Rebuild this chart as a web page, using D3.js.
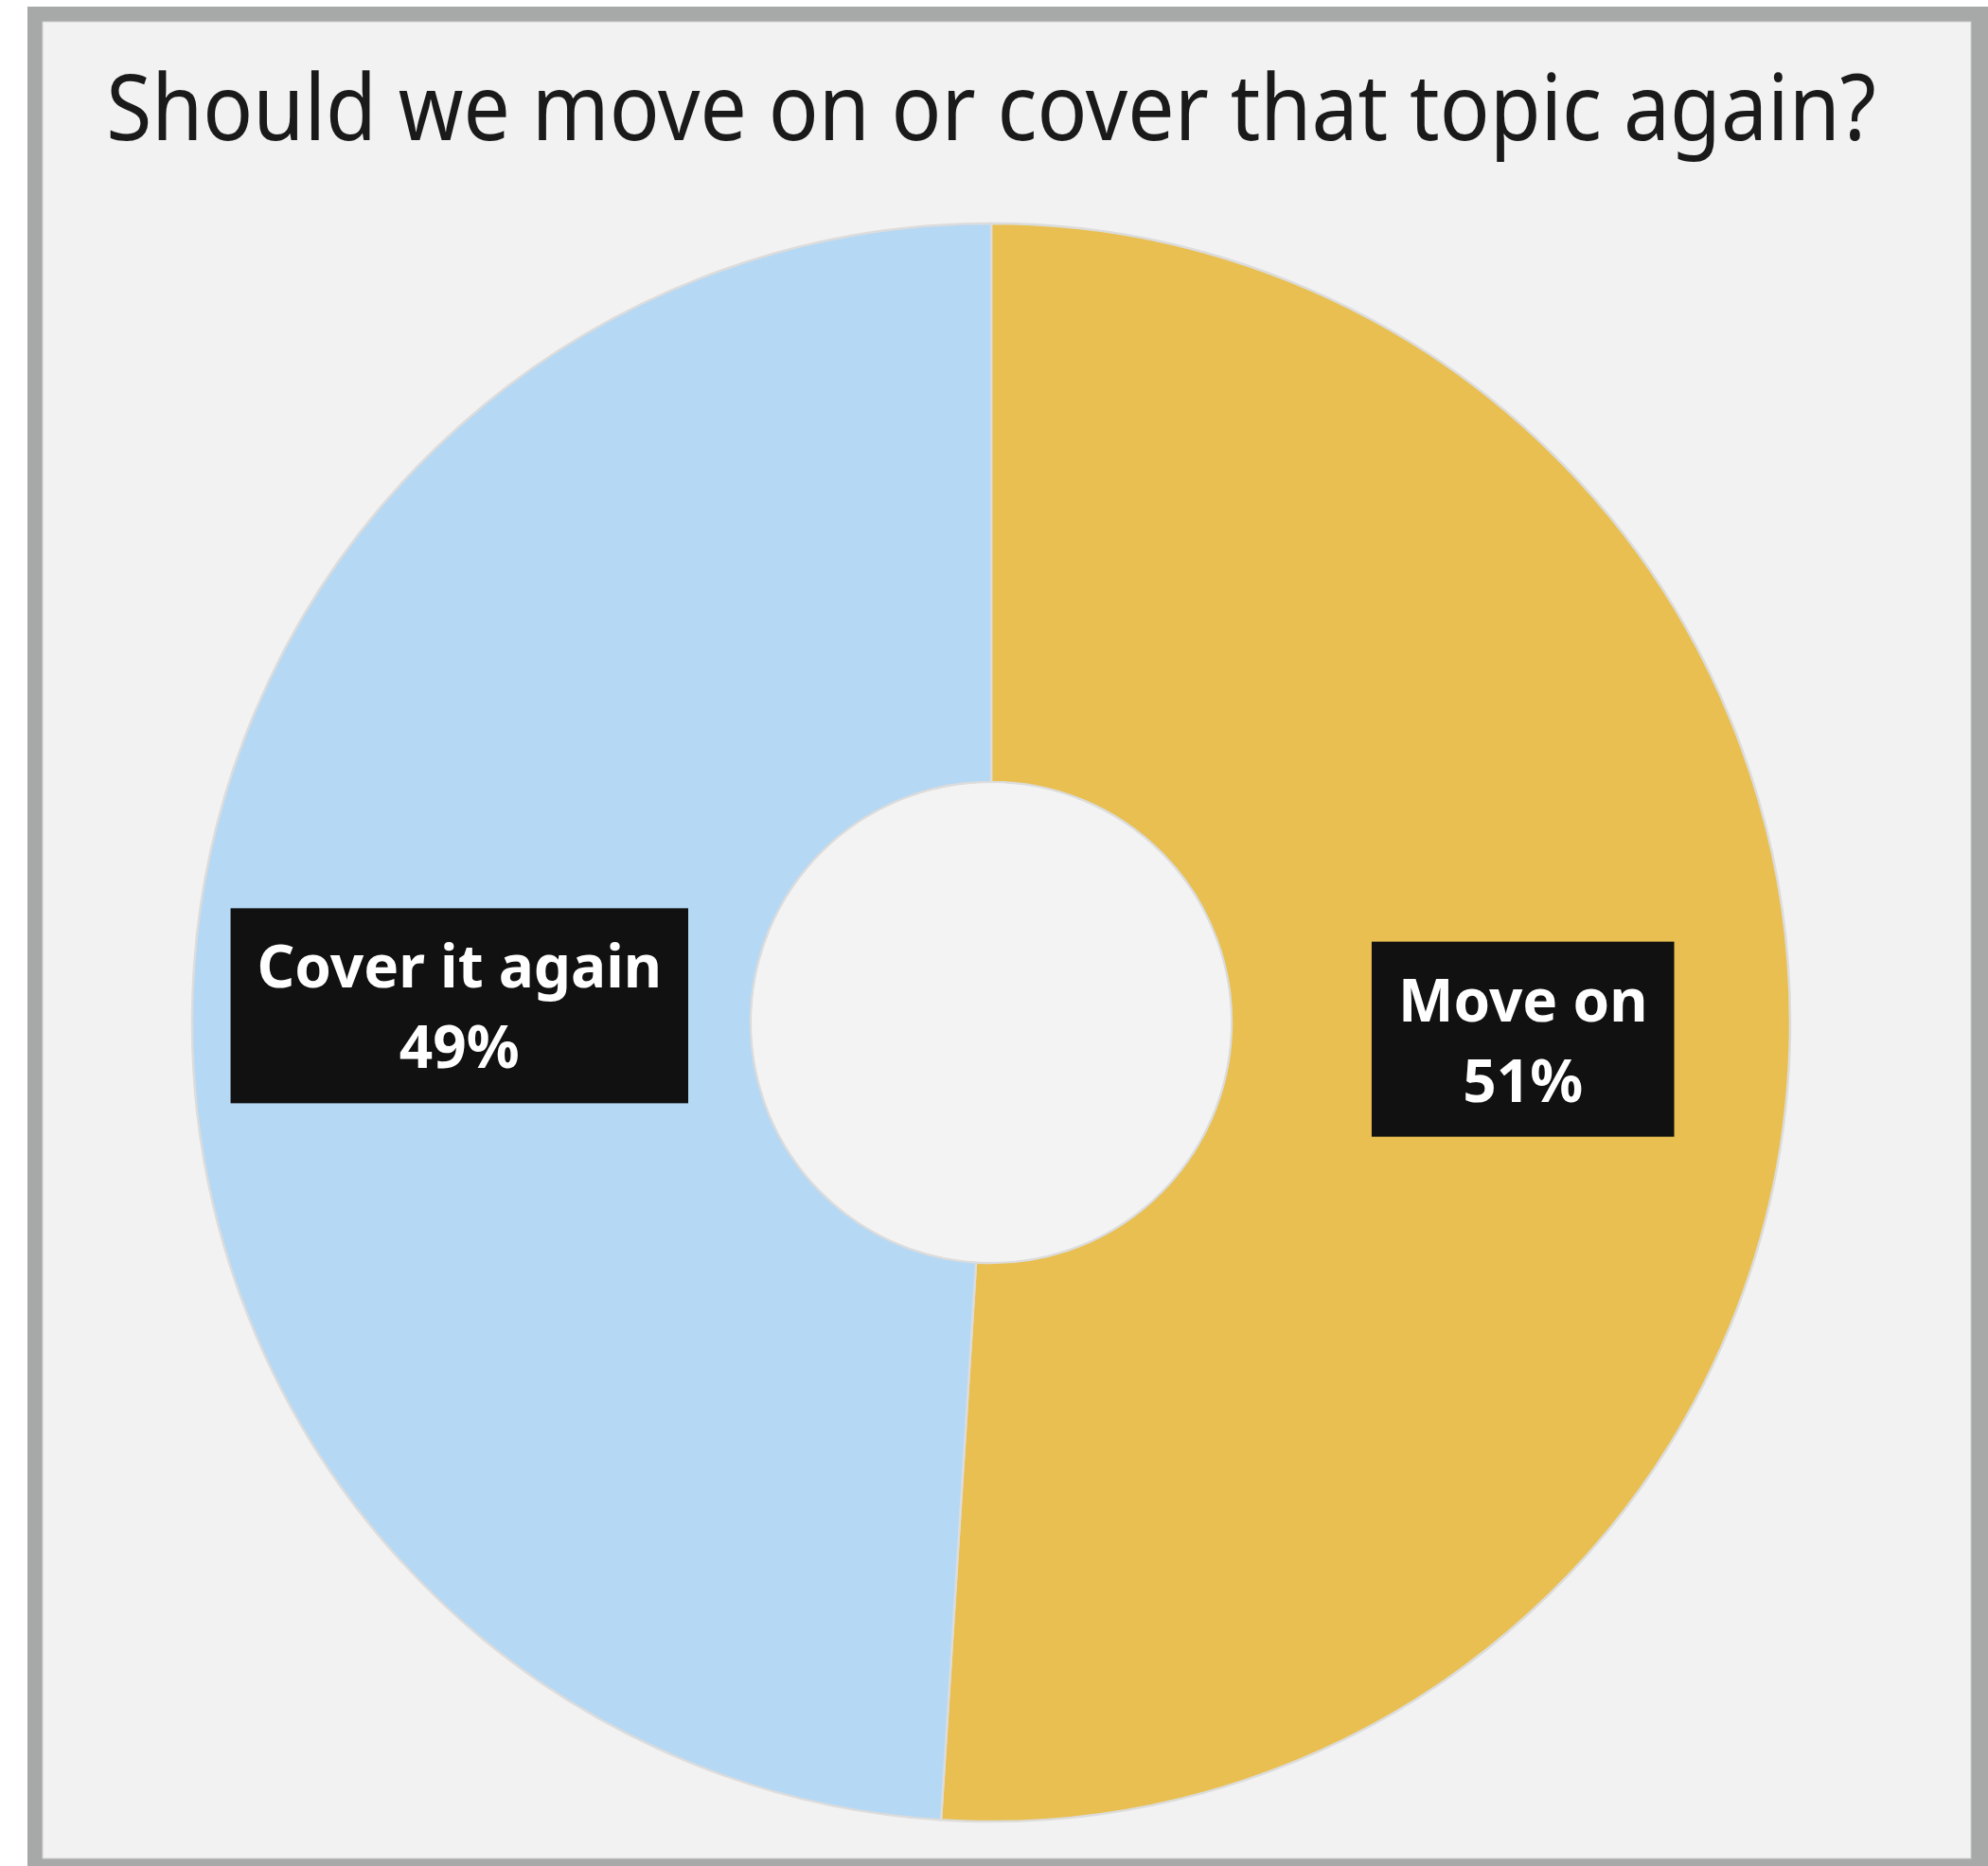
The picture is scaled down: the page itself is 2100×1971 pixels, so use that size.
<!DOCTYPE html>
<html>
<head>
<meta charset="utf-8">
<script src="https://cdn.jsdelivr.net/npm/d3@7"></script>
<style>
  html, body { margin: 0; padding: 0; background: #ffffff; }
  svg { display: block; }
</style>
</head>
<body>
<div id="chart"></div>
<script>
// Poll result: share of answers per option
const categories = ["Move on", "Cover it again"];
const values = [51, 49];
const colors = ["#e8bf50", "#b5d8f4"];
const title = "Should we move on or cover that topic again?";

const W = 2100, H = 1971;
const cx = 1047, cy = 1080;
const outerR = 844, innerR = 254, labelR = 562;

const svg = d3.select("#chart").append("svg")
  .attr("width", W).attr("height", H);

// Frame and panel
svg.append("rect").attr("x", 29).attr("y", 7)
  .attr("width", W - 29).attr("height", H - 7).attr("fill", "#a6a9a7");
svg.append("rect").attr("x", 45).attr("y", 23)
  .attr("width", 2082 - 45).attr("height", 1963 - 23)
  .attr("fill", "#f2f2f2").attr("stroke", "#cfd1d0").attr("stroke-width", 1);

// Title, condensed horizontally to fit the panel width
const titleWidth = 1870;
const tg = svg.append("g");
const t = tg.append("text")
  .attr("x", 0).attr("y", 0)
  .attr("text-anchor", "middle")
  .attr("font-family", "'Noto Sans', sans-serif")
  .attr("font-size", 96)
  .attr("fill", "#1a1a1a")
  .text(title);
const natural = t.node().getComputedTextLength();
tg.attr("transform", `translate(${cx},148) scale(${titleWidth / natural},1)`);

// Donut
const data = categories.map((c, i) => ({ name: c, value: values[i], color: colors[i] }));
const pie = d3.pie().value(d => d.value).sort(null);
const arc = d3.arc().innerRadius(innerR).outerRadius(outerR);
const labelArc = d3.arc().innerRadius(labelR).outerRadius(labelR);

const g = svg.append("g").attr("transform", `translate(${cx},${cy})`);
const arcs = pie(data);

g.selectAll("path.slice").data(arcs).join("path")
  .attr("class", "slice")
  .attr("d", arc)
  .attr("fill", d => d.data.color)
  .attr("stroke", "#dcdcdc")
  .attr("stroke-width", 2.5);

// Inner hole background
g.append("circle").attr("r", innerR - 1.2).attr("fill", "#f3f3f3");

// Labels in black boxes
const labels = g.selectAll("g.label").data(arcs).join("g")
  .attr("class", "label")
  .attr("transform", d => {
    const [x, y] = labelArc.centroid(d);
    return `translate(${x},${y})`;
  });

const boxH = 206, pad = 28;
labels.each(function (d) {
  const sel = d3.select(this);
  const box = sel.append("rect").attr("fill", "#111111");
  const txt = sel.append("text")
    .attr("text-anchor", "middle")
    .attr("font-family", "'Noto Sans', sans-serif")
    .attr("font-weight", "bold")
    .attr("font-size", 62)
    .attr("fill", "#ffffff");
  txt.append("tspan").attr("x", 0).attr("y", -19).text(d.data.name);
  txt.append("tspan").attr("x", 0).attr("y", 66).text(d.data.value + "%");
  const bw = txt.node().getBBox().width + 2 * pad;
  box.attr("x", -bw / 2).attr("y", -boxH / 2).attr("width", bw).attr("height", boxH);
});
</script>
</body>
</html>
